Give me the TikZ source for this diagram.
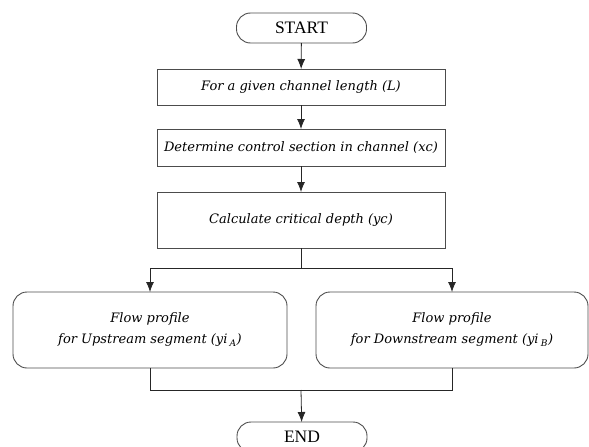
\documentclass[tikz,border=0pt]{standalone}
\usepackage{fontspec}
\setmainfont{Liberation Serif}
\newfontfamily\boxfont{DejaVu Serif}
\usetikzlibrary{arrows.meta}
\begin{document}
\begin{tikzpicture}[x=1pt,y=-1pt,
  every node/.style={inner sep=0pt,outer sep=0pt},
  term/.style={draw=black!70,line width=0.9pt,rounded corners=14pt,minimum width=130pt,minimum height=30pt,font=\fontsize{17.5}{20}\selectfont},
  proc/.style={draw=black!70,line width=0.9pt,minimum width=288pt,font=\boxfont\fontsize{13}{15}\selectfont\itshape},
  big/.style={draw=black!70,line width=0.9pt,rounded corners=14pt,minimum height=76pt,align=center,font=\boxfont\fontsize{13}{21}\selectfont\itshape},
  conn/.style={line width=0.8pt,black!85},
  arr/.style={conn,-{Latex[length=10pt,width=8pt]}}]
\useasboundingbox (0,0) rectangle (589,447);
\node[term] (start) at (301.5,28) {START};
\node[proc,minimum height=36pt] (b1) at (301,87) {For a given channel length (\textit{L})};
\node[proc,minimum height=37pt] (b2) at (301,147.5) {Determine control section in channel (\textit{xc})};
\node[proc,minimum height=56pt] (b3) at (301,220) {Calculate critical depth (\textit{yc})};
\node[big,minimum width=274pt] (left) at (150,330) {Flow profile\\for Upstream segment (\textit{yi}\,\textsubscript{\textit{A}})};
\node[big,minimum width=272pt] (right) at (452,330) {Flow profile\\for Downstream segment (\textit{yi}\,\textsubscript{\textit{B}})};
\node[term] (end) at (302,437) {END};
\coordinate (split) at (301,268);
\coordinate (join) at (301,390);
\draw[arr] (start) -- (b1);
\draw[arr] (b1) -- (b2);
\draw[arr] (b2) -- (b3);
\draw[conn] (b3) -- (split);
\draw[arr] (split) -| (left);
\draw[arr] (split) -| (right);
\draw[conn] (left) |- (join);
\draw[conn] (right) |- (join);
\draw[arr] (join) -- (end);
\end{tikzpicture}
\end{document}
